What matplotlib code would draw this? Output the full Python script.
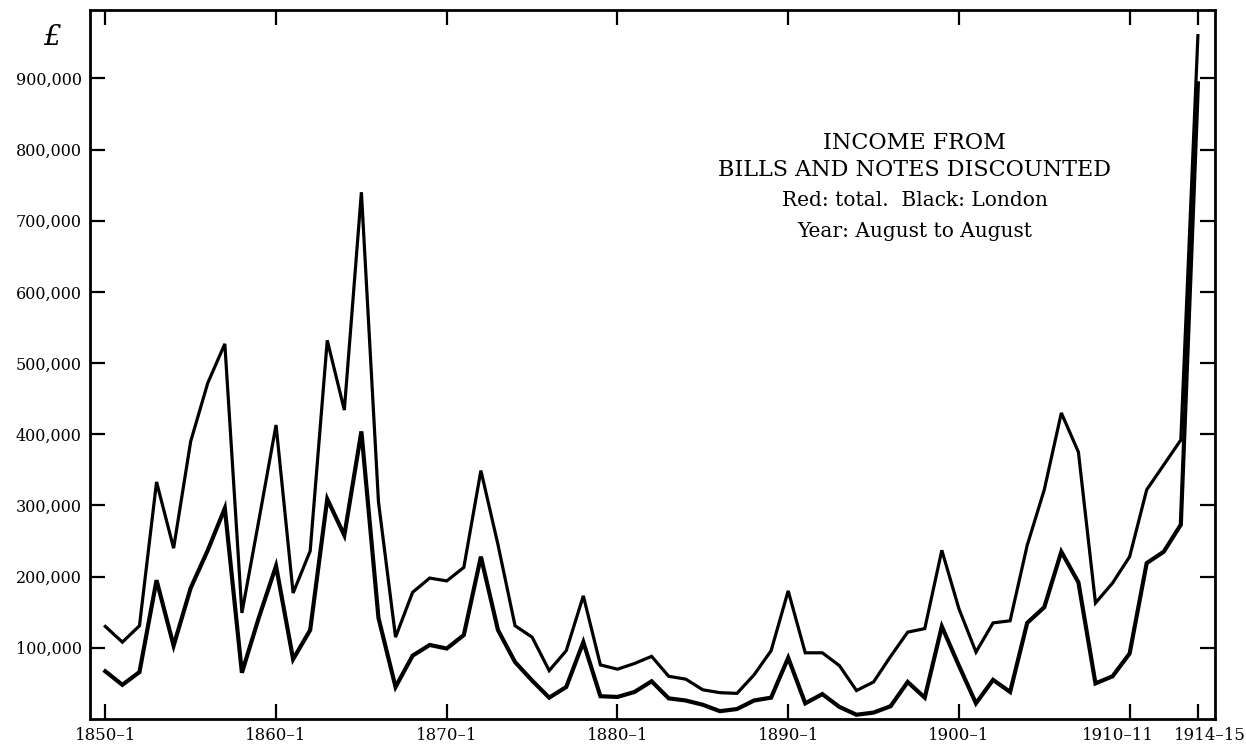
import matplotlib
matplotlib.use("Agg")
import matplotlib.pyplot as plt
import matplotlib.transforms as mtransforms

# income from bills and notes discounted, in pounds
years = list(range(1850, 1915))

total = [130, 108, 131, 333, 240, 390, 472, 527, 149, 280,
         413, 177, 236, 532, 434, 740, 305, 115, 178, 198,
         194, 213, 349, 245, 131, 115, 68, 96, 173, 76,
         70, 78, 88, 60, 56, 41, 37, 36, 62, 96,
         180, 93, 93, 75, 40, 52, 88, 122, 127, 237,
         155, 94, 135, 138, 244, 322, 430, 375, 163, 191,
         228, 322, 357, 392, 960]

london = [67, 48, 66, 195, 103, 184, 237, 296, 65, 143,
          215, 84, 125, 309, 258, 404, 142, 45, 89, 104,
          99, 118, 228, 125, 80, 54, 30, 45, 108, 32,
          31, 38, 53, 29, 26, 20, 11, 14, 26, 30,
          86, 22, 35, 17, 6, 9, 18, 52, 30, 130,
          75, 22, 55, 38, 135, 157, 235, 192, 50, 60,
          92, 219, 235, 273, 893]

x_ticks = [1850, 1860, 1870, 1880, 1890, 1900, 1910, 1914]
x_labels = ['1850–1', '1860–1', '1870–1', '1880–1', '1890–1',
            '1900–1', '1910–11', '1914–15']
y_ticks = [100000, 200000, 300000, 400000, 500000,
           600000, 700000, 800000, 900000]
y_labels = ['100,000', '200,000', '300,000', '400,000', '500,000',
            '600,000', '700,000', '800,000', '900,000']

plt.rcParams['font.family'] = ['DejaVu Serif']

fig = plt.figure(figsize=(12.46, 7.51), dpi=100)
ax = fig.add_axes([0.0722, 0.0426, 0.9029, 0.9441])

ax.plot(years, [v * 1000 for v in total], color='black', lw=2.3,
        solid_joinstyle='miter')
ax.plot(years, [v * 1000 for v in london], color='black', lw=3.0,
        solid_joinstyle='miter')

ax.set_xlim(1849.1, 1915.0)
ax.set_ylim(0, 996000)

ax.set_xticks(x_ticks)
ax.set_xticklabels(x_labels, fontsize=12)
ax.set_yticks(y_ticks)
ax.set_yticklabels(y_labels, fontsize=11.5)
ax.tick_params(direction='in', top=True, right=True, length=11, width=1.6,
               pad=6)
ax.tick_params(axis='x', pad=6)

# nudge the crowded last two year labels apart, as in the original
labs = ax.get_xticklabels()
for lab, dx in [(labs[-2], -12), (labs[-1], 12)]:
    lab.set_transform(lab.get_transform() +
                      mtransforms.ScaledTranslation(dx / 100, 0, fig.dpi_scale_trans))

for s in ax.spines.values():
    s.set_linewidth(2.0)

# key in the upper right
kx = 0.733
ax.text(kx, 0.812, 'INCOME FROM', transform=ax.transAxes,
        ha='center', va='center', fontsize=16)
ax.text(kx, 0.774, 'BILLS AND NOTES DISCOUNTED', transform=ax.transAxes,
        ha='center', va='center', fontsize=16)
ax.text(kx, 0.732, 'Red: total.  Black: London', transform=ax.transAxes,
        ha='center', va='center', fontsize=14.5)
ax.text(kx, 0.687, 'Year: August to August', transform=ax.transAxes,
        ha='center', va='center', fontsize=14.5)

fig.text(0.042, 0.95, '£', fontsize=20, style='italic', ha='center',
         va='center')

fig.savefig('out.png', dpi=100)
